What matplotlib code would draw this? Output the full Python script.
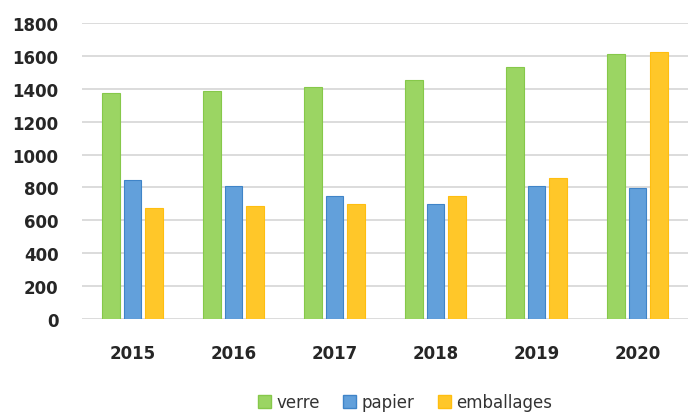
import numpy as np
from matplotlib import pyplot as plt
from matplotlib.patches import Patch

years = ["2015", "2016", "2017", "2018", "2019", "2020"]
verre = [1375, 1385, 1410, 1455, 1530, 1610]
papier = [845, 808, 750, 700, 808, 798]
emballages = [678, 690, 700, 750, 858, 1625]

series = [("verre", verre, "#9BD563", "#86C84A"),
          ("papier", papier, "#62A0DB", "#3F84C8"),
          ("emballages", emballages, "#FFC729", "#FFBE10")]

fig = plt.figure(figsize=(6.91, 4.14), dpi=100)
ax = fig.add_axes([82 / 691, 1 - 320 / 414, 606 / 691, 296 / 414])

x = np.arange(len(years))
width = 0.175
offsets = [-0.21, 0, 0.21]
for (name, vals, col, edge), off in zip(series, offsets):
    ax.bar(x + off, vals, width, color=col, edgecolor=edge, linewidth=0.8,
           label=name, zorder=3)

ax.set_xlim(-0.5, 5.5)
ax.set_ylim(0, 1800)
ax.set_yticks(range(0, 1801, 200))
ax.set_xticks(x)
ax.set_xticklabels(years)
ax.grid(axis="y", color="#D6D6D6", linewidth=1.2, zorder=0)
for s in ax.spines.values():
    s.set_visible(False)
ax.tick_params(length=0)
ax.tick_params(axis="y", pad=17)
ax.tick_params(axis="x", pad=18)
for lbl in ax.get_yticklabels() + ax.get_xticklabels():
    lbl.set_fontsize(12)
    lbl.set_fontweight("bold")
    lbl.set_color("#262626")

handles = [Patch(facecolor=c, edgecolor=e, label=n) for n, v, c, e in series]
fig.legend(handles=handles, loc="center", bbox_to_anchor=(405 / 691, 1 - 403 / 414),
           ncol=3, frameon=False, fontsize=12, handlelength=0.8, handleheight=0.8,
           handletextpad=0.3, columnspacing=1.4, labelcolor="#333333")

fig.savefig("out.png", dpi=100)
